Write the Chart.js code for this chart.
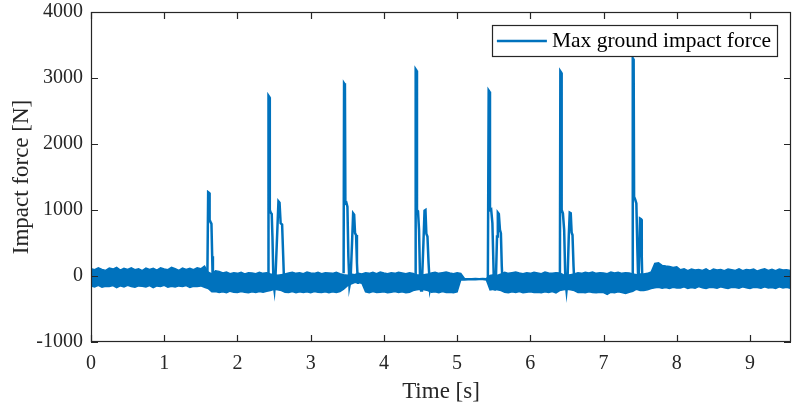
<!DOCTYPE html>
<html lang="en">
<head>
    <meta charset="UTF-8">
    <meta name="viewport" content="width=device-width, initial-scale=1.0">
    <title>Max Ground Impact Force</title>
    <script src="https://cdn.jsdelivr.net/npm/chart.js"></script>
    <style>
        body { margin: 0; background: #fff; }
        .chart-container { position: relative; width: 797px; height: 409px; }
    </style>
</head>
<body>
    <div class="chart-container">
        <canvas id="forceChart"></canvas>
    </div>

    <script>
        // Sensor noise band (top and bottom edge), one pair every 0.05 s from t = 0
        const bandStep = 0.05;
        const bandTop = [
            // 0 - 1.55 s, standing still
            110, 95, 125, 100, 85, 120, 105, 130, 90, 115, 100, 125, 95, 110, 80, 120,
            100, 115, 90, 125, 105, 95, 130, 110, 85, 120, 100, 115, 95, 125, 110, 150,
            // step 1
            60, 30,
            80, 70, 45, 60, 35, 50, 40, 55, 30, 50, 45, 35, 55, 40, 50,
            // step 2
            30, 20, 10, 20, 30,
            45, 55, 40, 50, 35, 60, 45, 40, 55, 35, 50, 45, 40, 55, 35,
            // step 3
            20, 10, 30, 20, 40, 30,
            50, 40, 55, 35, 60, 45, 35, 50, 40, 55, 45, 35, 50, 40,
            // step 4
            20, 10, 20, 30,
            45, 55, 40, 50, 60, 45, 35, 50, 40,
            // flat stretch
            -38, -42, -40, -38, -40, -38, -40,
            // step 5
            10, 20, 10, 30,
            55, 40, 50, 60, 45, 35, 50, 40, 55, 45, 35, 60, 45, 40, 50, 45,
            // step 6
            20, 10, 20, 30,
            50, 40, 55, 45, 60, 40, 50, 45, 35, 60, 45, 55, 40, 50, 45,
            // step 7
            30, 20, 30,
            30, 40, 60, 190, 200, 160, 150, 145, 130, 140,
            // 8 s onwards
            95, 110, 80, 105, 90, 100, 85, 110, 75, 105, 90, 100, 80, 105, 95, 85,
            110, 80, 100, 90, 105, 75, 95, 110, 85, 100, 80, 105, 90, 95, 85
        ];
        const bandBottom = [
            -150, -165, -140, -170, -155, -160, -145, -175, -150, -165, -140, -160, -170, -150, -155, -165,
            -145, -175, -150, -160, -140, -170, -155, -165, -150, -160, -145, -175, -155, -160, -150, -170,
            -190, -240,
            -235, -250, -240, -255, -230, -245, -250, -235, -245, -255, -240, -250, -235, -245, -230,
            -220, -200, -210, -220, -245,
            -250, -235, -255, -240, -250, -240, -255, -235, -245, -250, -240, -255, -240, -250, -235,
            -200, -150, -120, -100, -100, -110,
            -240, -255, -235, -250, -245, -240, -255, -245, -235, -250, -240, -255, -245, -220,
            -210, -200, -210, -220,
            -245, -240, -255, -235, -250, -245, -255, -240, -58,
            -60, -58, -56, -55, -54, -52, -60,
            -210, -200, -210, -220,
            -245, -255, -240, -250, -235, -255, -245, -240, -250, -245, -255, -240, -250, -235, -255, -220,
            -210, -200, -210, -220,
            -250, -245, -255, -240, -250, -255, -245, -250, -280, -245, -255, -240, -250, -265, -245,
            -230, -200, -220,
            -220, -210, -190, -180, -170, -185, -175, -190, -170, -180,
            -180, -165, -190, -175, -185, -160, -180, -190, -170, -175, -185, -165, -180, -190, -170, -175,
            -185, -165, -180, -190, -170, -175, -185, -165, -180, -175, -190, -165, -180, -170, -185
        ];

        // Impact peaks (heel strike + second bump), null splits the steps
        const impactTime = [
            1.590, 1.600, 1.612, 1.620, 1.632, 1.645, 1.655, 1.665, 1.675, 1.7,
            2.418, 2.424, 2.436, 2.442, 2.455, 2.468, 2.478, 2.492, 2.505, 2.520,
            2.545, 2.560, 2.575, 2.590, 2.610, 2.625, 2.640, 2.652, 2.7,
            3.450, 3.456, 3.468, 3.474, 3.488, 3.502, 3.515, 3.530, 3.545,
            3.565, 3.580, 3.594, 3.606, 3.620, 3.632, 3.645, 3.655, 3.7,
            4.428, 4.434, 4.446, 4.452, 4.466, 4.480, 4.495, 4.508, 4.520,
            4.540, 4.555, 4.568, 4.580, 4.595, 4.610, 4.630, 4.650, 4.7,
            5.420, 5.431, 5.443, 5.449, 5.465, 5.482, 5.500, 5.515, 5.530,
            5.545, 5.556, 5.570, 5.585, 5.598, 5.610, 5.625, 5.640, 5.7,
            6.404, 6.410, 6.422, 6.428, 6.445, 6.462, 6.478, 6.494, 6.508,
            6.525, 6.538, 6.552, 6.564, 6.576, 6.590, 6.605, 6.618, 6.7,
            7.393, 7.399, 7.411, 7.417, 7.432, 7.448, 7.462, 7.475,
            7.488, 7.498, 7.512, 7.522, 7.532, 7.542
        ];
        const impactForce = [
            60, 1270, 1260, 850, 820, 790, 300, -230, -60, null,
            40, 2730, 2710, 1000, 960, 940, 600, -100, -210, 0,
            700, 1130, 1110, 800, 780, 300, -200, -60, null,
            40, 2920, 2900, 1100, 1110, 1050, 300, -150, -60,
            500, 950, 930, 650, 620, 200, -120, -40, null,
            40, 3130, 3110, 1000, 980, 700, -100, -220, -100,
            500, 990, 1000, 640, 600, 200, -200, -100, null,
            -40, 2810, 2790, 1000, 1010, 800, 0, -220, -50,
            600, 960, 940, 700, 650, 150, -220, -60, null,
            40, 3100, 3080, 1000, 950, 700, -50, -220, -60,
            600, 960, 950, 660, 620, 150, -200, -60, null,
            40, 3300, 3280, 1200, 1160, 1100, 400, -150,
            300, 870, 860, 300, -220, -60
        ];

        // Axis ticks
        const timeTicks = [0, 1, 2, 3, 4, 5, 6, 7, 8, 9];
        const forceTicks = [-1000, 0, 1000, 2000, 3000, 4000];

        const LINE_COLOR = '#0072BD';
        const TEXT_COLOR = '#262626';
        const SERIF = "'Liberation Serif', 'Times New Roman', serif";

        // MATLAB style box with ticks pointing inwards on all four sides
        const boxTicks = {
            id: 'boxTicks',
            afterDatasetsDraw(chart) {
                const { ctx, chartArea: a, scales: { x, y } } = chart;
                const len = 7;
                ctx.save();
                ctx.strokeStyle = TEXT_COLOR;
                ctx.lineWidth = 1.2;
                ctx.beginPath();
                x.ticks.forEach(t => {
                    const px = Math.round(x.getPixelForValue(t.value)) + 0.5;
                    ctx.moveTo(px, a.bottom); ctx.lineTo(px, a.bottom - len);
                    ctx.moveTo(px, a.top); ctx.lineTo(px, a.top + len);
                });
                y.ticks.forEach(t => {
                    const py = Math.round(y.getPixelForValue(t.value)) + 0.5;
                    ctx.moveTo(a.left, py); ctx.lineTo(a.left + len, py);
                    ctx.moveTo(a.right, py); ctx.lineTo(a.right - len, py);
                });
                ctx.stroke();
                ctx.strokeRect(Math.round(a.left) + 0.5, Math.round(a.top) + 0.5,
                    Math.round(a.width) - 1, Math.round(a.height) - 1);
                ctx.restore();
            }
        };

        // Legend box inside the top right corner of the plot
        const boxLegend = {
            id: 'boxLegend',
            afterDraw(chart) {
                const { ctx, chartArea: a } = chart;
                const label = chart.data.datasets[0].label;
                ctx.save();
                ctx.font = '21.5px ' + SERIF;
                const textW = ctx.measureText(label).width;
                const right = a.right - 14;
                const top = a.top + 13;
                const h = 31;
                const w = 5 + 50 + 5 + textW + 6;
                const left = right - w;
                ctx.fillStyle = '#fff';
                ctx.fillRect(left, top, w, h);
                ctx.strokeStyle = TEXT_COLOR;
                ctx.lineWidth = 1.2;
                ctx.strokeRect(Math.round(left) + 0.5, top + 0.5, Math.round(w), h);
                ctx.strokeStyle = LINE_COLOR;
                ctx.lineWidth = 2.5;
                ctx.beginPath();
                ctx.moveTo(left + 5, top + h / 2 + 0.5);
                ctx.lineTo(left + 55, top + h / 2 + 0.5);
                ctx.stroke();
                ctx.fillStyle = '#000';
                ctx.textBaseline = 'middle';
                ctx.fillText(label, left + 60, top + h / 2 + 1);
                ctx.restore();
            }
        };

        const topPoints = bandTop.map((f, i) => ({ x: i * bandStep, y: f }));
        const bottomPoints = bandBottom.map((f, i) => ({ x: i * bandStep, y: f }));
        const impactPoints = impactTime.map((t, i) => ({ x: t, y: impactForce[i] }));

        const lineStyle = {
            borderColor: LINE_COLOR,
            backgroundColor: LINE_COLOR,
            borderWidth: 1.5,
            pointRadius: 0,
            tension: 0
        };

        const ctx = document.getElementById('forceChart').getContext('2d');
        new Chart(ctx, {
            type: 'line',
            data: {
                datasets: [
                    { ...lineStyle, label: 'Max ground impact force', data: topPoints, fill: '+1' },
                    { ...lineStyle, label: 'noise floor', data: bottomPoints, fill: false },
                    { ...lineStyle, label: 'impacts', data: impactPoints, fill: false, borderWidth: 2.5, spanGaps: false }
                ]
            },
            options: {
                responsive: true,
                maintainAspectRatio: false,
                animation: false,
                events: [],
                layout: { padding: { top: 12, right: 6, left: 0, bottom: 0 } },
                scales: {
                    x: {
                        type: 'linear',
                        min: 0,
                        max: 9.56,
                        afterBuildTicks: scale => { scale.ticks = timeTicks.map(v => ({ value: v })); },
                        afterFit: scale => {
                            scale.height = 67;
                            scale.paddingLeft = 0;
                            scale.paddingRight = 0;
                        },
                        ticks: {
                            includeBounds: false,
                            padding: 10,
                            maxRotation: 0,
                            color: TEXT_COLOR,
                            font: { family: SERIF, size: 20 },
                            callback: v => String(v)
                        },
                        grid: { display: false, drawTicks: false },
                        border: { display: false },
                        title: {
                            display: true,
                            text: 'Time [s]',
                            color: TEXT_COLOR,
                            font: { family: SERIF, size: 23 },
                            padding: { top: 0, bottom: 3 }
                        }
                    },
                    y: {
                        min: -1000,
                        max: 4000,
                        afterBuildTicks: scale => { scale.ticks = forceTicks.map(v => ({ value: v })); },
                        afterFit: scale => {
                            scale.width = 91;
                            scale.paddingTop = 0;
                            scale.paddingBottom = 0;
                        },
                        ticks: {
                            padding: 8,
                            color: TEXT_COLOR,
                            font: { family: SERIF, size: 20 },
                            callback: v => String(v)
                        },
                        grid: { display: false, drawTicks: false },
                        border: { display: false },
                        title: {
                            display: true,
                            text: 'Impact force [N]',
                            color: TEXT_COLOR,
                            font: { family: SERIF, size: 23 },
                            padding: { top: 8, bottom: 0 }
                        }
                    }
                },
                plugins: {
                    legend: { display: false },
                    tooltip: { enabled: false }
                }
            },
            plugins: [boxTicks, boxLegend]
        });
    </script>
</body>
</html>
